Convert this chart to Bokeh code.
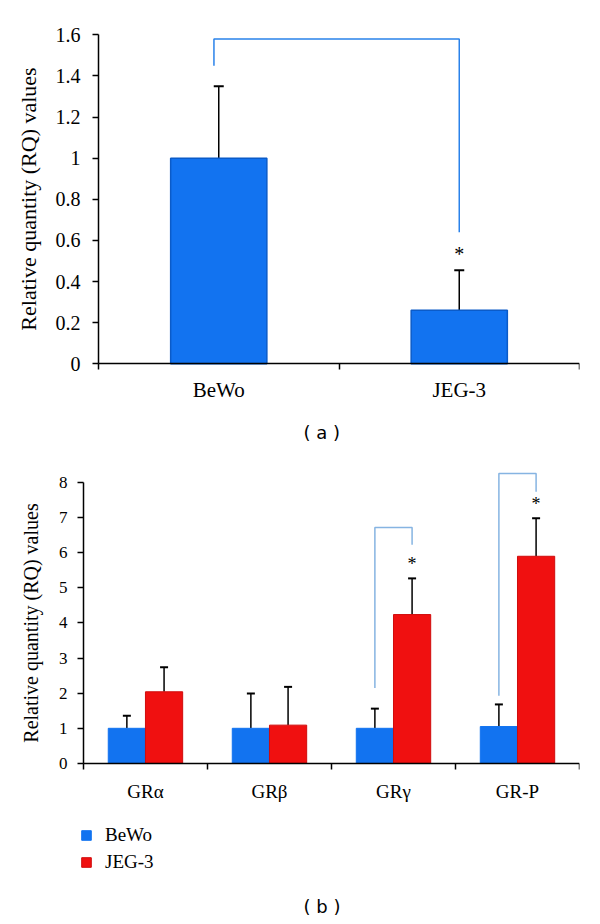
import numpy as np
from bokeh.plotting import figure
from bokeh.models import (Range1d, FixedTicker, CustomJSTickFormatter, Whisker, TeeHead,
                          ColumnDataSource, Legend, Title)
from bokeh.layouts import column
from bokeh.core.properties import value
from bokeh.embed import file_html
from bokeh.resources import INLINE

# ---------------- data (a) ----------------
cells_a = ["BeWo", "JEG-3"]
rq_a = [1.0, 0.26]
err_a = [0.35, 0.195]
yticks_a = [0, 0.2, 0.4, 0.6, 0.8, 1.0, 1.2, 1.4, 1.6]
bracket_a_top = 1.58
bracket_a_left = 1.45
bracket_a_right = 0.64
star_a = 0.535

# ---------------- data (b) ----------------
isoforms = ["GRα", "GRβ", "GRγ", "GR-P"]
bewo_b = [1.0, 1.0, 1.0, 1.05]
bewo_err = [0.36, 0.99, 0.56, 0.63]
jeg_b = [2.04, 1.09, 4.24, 5.90]
jeg_err = [0.70, 1.09, 1.03, 1.08]
yticks_b = [0, 1, 2, 3, 4, 5, 6, 7, 8]
br_idx = [2, 3]
br_top = [6.72, 8.26]
br_left = [2.15, 1.93]
br_right = [6.23, 7.74]
star_b = [5.69, 7.4]

BLUE = "#1273F0"
BLUE_EDGE = "#0B5BC8"
RED = "#F01010"
RED_EDGE = "#D00C0C"
SERIF = "Liberation Serif"


def style_axes(p, tick_size, label_size):
    p.xgrid.visible = False
    p.ygrid.visible = False
    p.outline_line_color = None
    for ax in (p.xaxis[0], p.yaxis[0]):
        ax.axis_line_color = "black"
        ax.axis_line_width = 1.5
        ax.major_tick_line_color = "black"
        ax.major_tick_line_width = 1.5
        ax.minor_tick_line_color = "black"
        ax.minor_tick_line_width = 1.5
        ax.major_label_text_font = SERIF
        ax.major_label_text_color = "black"
        ax.axis_label_text_font = SERIF
        ax.axis_label_text_font_style = "normal"
        ax.axis_label_text_color = "black"
    p.yaxis.major_label_text_font_size = tick_size
    p.yaxis.axis_label_text_font_size = label_size
    p.yaxis.major_tick_in = 0
    p.yaxis.major_tick_out = 6
    p.yaxis.minor_tick_line_color = None
    p.xaxis.major_tick_in = 0
    p.xaxis.major_tick_out = 0
    p.xaxis.minor_tick_in = 0
    p.xaxis.minor_tick_out = 6


# ================= figure (a) =================
# frame spans (almost) the whole figure; both axes are pinned at data 0
xa = np.arange(len(cells_a)) + 0.5
p1 = figure(width=600, height=460, x_range=Range1d(-0.4075, len(cells_a)),
            y_range=Range1d(-0.2515, 1.66),
            output_backend="svg", toolbar_location=None, tools="",
            min_border_left=0, min_border_right=21, min_border_top=22, min_border_bottom=45)
style_axes(p1, "20px", "22px")
p1.yaxis.fixed_location = 0
p1.xaxis.fixed_location = 0
p1.yaxis.bounds = (0, 1.6)
p1.xaxis.bounds = (0, len(cells_a))
p1.yaxis.ticker = FixedTicker(ticks=yticks_a)
p1.yaxis.formatter = CustomJSTickFormatter(code="return String(Math.round(tick*10)/10);")
p1.yaxis.axis_label = "Relative quantity (RQ) values"
p1.yaxis.axis_label_standoff = 12
p1.yaxis.major_label_standoff = 12
p1.xaxis.ticker = FixedTicker(ticks=list(xa), minor_ticks=list(range(len(cells_a) + 1)))
p1.xaxis.major_label_overrides = {float(x): c for x, c in zip(xa, cells_a)}
p1.xaxis.major_label_text_font_size = "21px"
p1.xaxis.major_label_standoff = 8

p1.vbar(x=xa, top=rq_a, width=0.4, fill_color=BLUE, line_color=BLUE_EDGE, line_width=1.5)
src_a = ColumnDataSource(dict(x=xa, lower=rq_a, upper=np.array(rq_a) + np.array(err_a)))
p1.add_layout(Whisker(base="x", lower="lower", upper="upper", source=src_a,
                      line_color="black", line_width=1.5, lower_head=None,
                      upper_head=TeeHead(size=10, line_color="black", line_width=2)))
p1.line(x=[xa[0] - 0.02, xa[0] - 0.02, xa[1], xa[1]],
        y=[bracket_a_left, bracket_a_top, bracket_a_top, bracket_a_right],
        line_color="#2A82EA", line_width=1.5)
p1.text(x=[xa[1]], y=[star_a], text=["*"], text_align="center", text_baseline="middle",
        text_font=value(SERIF), text_font_size="20px", text_color="black")
p1.add_layout(Title(text="( a )", align="left", offset=303, standoff=8,
                    text_font="DejaVu Sans", text_font_size="18px", text_font_style="normal",
                    text_color="black"), "below")

# ================= figure (b) =================
xb = np.arange(len(isoforms)) + 0.5
p2 = figure(width=600, height=464, x_range=Range1d(-0.669, len(isoforms)), y_range=Range1d(-3.62, 8.4),
            output_backend="svg", toolbar_location=None, tools="",
            min_border_left=0, min_border_right=21, min_border_top=8, min_border_bottom=34)
style_axes(p2, "17px", "20px")
p2.xaxis.fixed_location = 0
p2.yaxis.fixed_location = 0
p2.xaxis.bounds = (0, len(isoforms))
p2.yaxis.ticker = FixedTicker(ticks=yticks_b)
p2.yaxis.bounds = (0, 8)
p2.yaxis.axis_label = "Relative quantity (RQ) values"
p2.yaxis.axis_label_standoff = 14
p2.yaxis.major_label_standoff = 10
p2.xaxis.ticker = FixedTicker(ticks=list(xb), minor_ticks=list(range(len(isoforms) + 1)))
p2.xaxis.major_label_overrides = {float(x): c for x, c in zip(xb, isoforms)}
p2.xaxis.major_label_text_font_size = "19px"
p2.xaxis.major_label_standoff = 12

rb = p2.vbar(x=xb - 0.15, top=bewo_b, width=0.3, fill_color=BLUE, line_color=BLUE, line_width=1)
rr = p2.vbar(x=xb + 0.15, top=jeg_b, width=0.3, fill_color=RED, line_color=RED_EDGE, line_width=1)
for xs, vals, errs in ((xb - 0.15, bewo_b, bewo_err), (xb + 0.15, jeg_b, jeg_err)):
    s = ColumnDataSource(dict(x=xs, lower=vals, upper=np.array(vals) + np.array(errs)))
    p2.add_layout(Whisker(base="x", lower="lower", upper="upper", source=s,
                          line_color="black", line_width=1.5, lower_head=None,
                          upper_head=TeeHead(size=8, line_color="black", line_width=2)))
for i, top, lb, rb_ in zip(br_idx, br_top, br_left, br_right):
    p2.line(x=[xb[i] - 0.15, xb[i] - 0.15, xb[i] + 0.15, xb[i] + 0.15],
            y=[lb, top, top, rb_], line_color="#86B4E2", line_width=1.5)
p2.text(x=[xb[i] + 0.15 for i in br_idx], y=star_b, text=["*"] * len(br_idx),
        text_align="center", text_baseline="middle", text_font=value(SERIF),
        text_font_size="18px", text_color="black")

legend = Legend(items=[("BeWo", [rb]), ("JEG-3", [rr])], location=(80, 17),
                orientation="vertical", glyph_width=12, glyph_height=12,
                label_text_font=SERIF, label_text_font_size="19px", label_text_color="black",
                label_height=20, border_line_color=None, background_fill_alpha=0,
                margin=0, padding=0, spacing=5, label_standoff=13)
p2.add_layout(legend)
p2.add_layout(Title(text="( b )", align="left", offset=303, standoff=6,
                    text_font="DejaVu Sans", text_font_size="18px", text_font_style="normal",
                    text_color="black"), "below")

layout = column(p1, p2, spacing=0)
open("out.html", "w").write(file_html(layout, INLINE))
